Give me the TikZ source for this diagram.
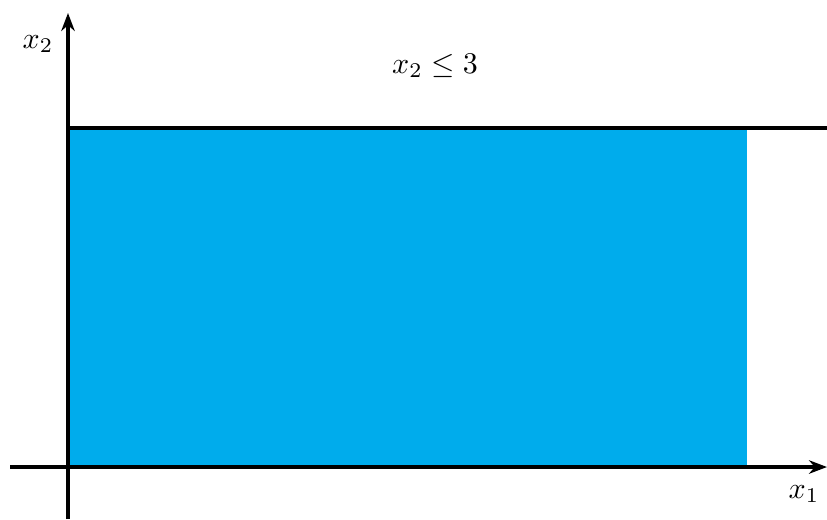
\documentclass[tikz,border=0pt]{standalone}
\usetikzlibrary{arrows.meta}
\definecolor{regionblue}{HTML}{00ACEC}
\begin{document}
\begin{tikzpicture}[x=0.3333pt,y=-0.3333pt,
  axis/.style={line width=1.35pt,-{Stealth[length=6pt,width=4.5pt]}},
  bound/.style={line width=1.35pt},
  lbl/.style={inner sep=0pt}]
\useasboundingbox (0,0) rectangle (827,519);
\fill[regionblue] (68,128) rectangle (747,467);
\coordinate (xs) at (10,467);
\coordinate (xe) at (827,467);
\coordinate (ys) at (68,519);
\coordinate (ye) at (68,13);
\coordinate (bs) at (68,128);
\coordinate (be) at (827,128);
\draw[bound] (bs) -- (be);
\draw[axis] (xs) -- (xe);
\draw[axis] (ys) -- (ye);
\node[lbl] (lx2) at (38,44) {$x_2$};
\node[lbl] (lx1) at (804,494) {$x_1$};
\node[lbl] (lc) at (435,66) {$x_2 \leq 3$};
\end{tikzpicture}
\end{document}
